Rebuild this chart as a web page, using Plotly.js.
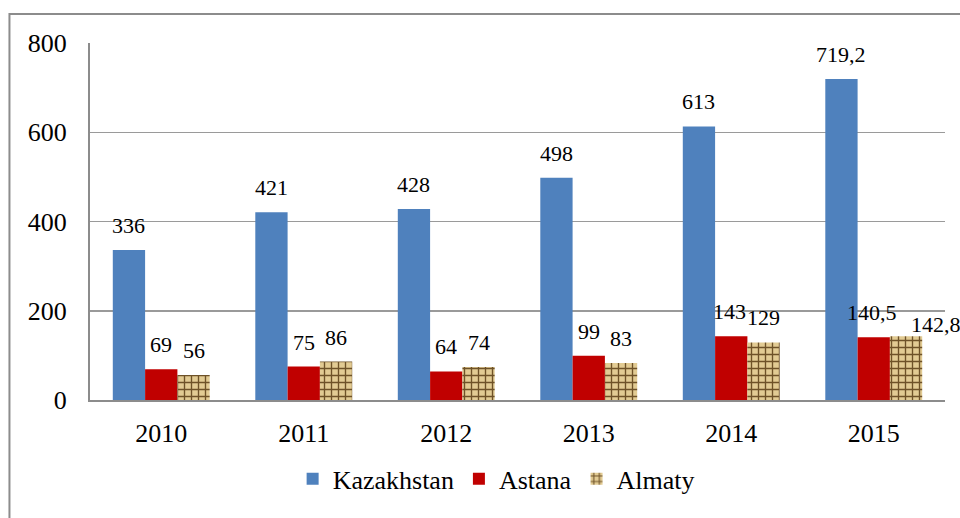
<!DOCTYPE html>
<html>
<head>
<meta charset="utf-8">
<script src="https://cdn.plot.ly/plotly-3.0.1.min.js"></script>
<style>
html,body{margin:0;padding:0;background:#fff;}
#chart{width:960px;height:518px;}
</style>
</head>
<body>
<div id="chart"></div>
<script>
const years = ['2010','2011','2012','2013','2014','2015'];
const kazakhstan = [336, 421, 428, 498, 613, 719.2];
const astana = [69, 75, 64, 99, 143, 140.5];
const almaty = [56, 86, 74, 83, 129, 142.8];
const seriesNames = ['Kazakhstan','Astana','Almaty'];
const yTicks = [0, 200, 400, 600, 800];

const fmt = v => String(v).replace('.', ',');
const FONT = 'Liberation Serif';

const traces = [
  {type:'bar', name:seriesNames[0], x:years, y:kazakhstan,
   marker:{color:'#4f81bd'}, textposition:'none', hoverinfo:'y'},
  {type:'bar', name:seriesNames[1], x:years, y:astana,
   marker:{color:'#c00000'}, textposition:'none', hoverinfo:'y'},
  {type:'bar', name:seriesNames[2], x:years, y:almaty,
   marker:{color:'#d2b77c', pattern:{shape:'+', bgcolor:'#e2cb93', fgcolor:'#6e5228', size:7, solidity:0.35}},
   textposition:'none', hoverinfo:'y'}
];

const ML = 90, MR = 15, W = 960;
const bargap = 0.32;
const catW = (W - ML - MR) / years.length;
const barW = catW * (1 - bargap) / 3;
const allSeries = [kazakhstan, astana, almaty];
// label nudges (series index, category index) -> [dx, dy] in px
const nudges = {'2,5':[30,-13], '1,5':[-2,0], '1,4':[-2,0]};
const annotations = [];
allSeries.forEach((vals, si) => {
  vals.forEach((v, i) => {
    const n = nudges[si + ',' + i] || [0,0];
    annotations.push({
      x: i, y: v, xref:'x', yref:'y',
      text: fmt(v), showarrow:false,
      xshift: (si - 1) * barW + n[0], yshift: 10 + n[1], yanchor:'bottom',
      font:{family:FONT, size:22, color:'#000'}
    });
  });
});

const layout = {
  width: 960, height: 518,
  margin:{l:ML, r:MR, t:43, b:118},
  paper_bgcolor:'#fff', plot_bgcolor:'#fff',
  barmode:'group', bargap:bargap, bargroupgap:0,
  font:{family:FONT, size:26, color:'#000'},
  xaxis:{type:'category', range:[-0.5, years.length - 0.5], autorange:false, automargin:false,
         showgrid:false, showline:true, linecolor:'#8c8c8c', linewidth:2,
         ticks:'outside', ticklen:9, tickcolor:'rgba(0,0,0,0)', tickfont:{family:FONT, size:26}},
  yaxis:{range:[0,800], autorange:false, automargin:false, tickvals:yTicks, showgrid:true, gridcolor:'#9a9a9a', gridwidth:1.5,
         showline:true, linecolor:'#8c8c8c', linewidth:2, zeroline:false,
         ticks:'outside', ticklen:16, tickcolor:'rgba(0,0,0,0)', tickfont:{family:FONT, size:26}},
  showlegend:true,
  legend:{orientation:'h', x:0.475, xanchor:'center', y:-0.155, yanchor:'top',
          font:{family:FONT, size:26}, itemwidth:30, traceorder:'normal'},
  annotations: annotations,
  shapes:[
    {type:'path', xref:'paper', yref:'paper',
     path:'M -0.0942,-0.4 L -0.0942,1.0812 L 1.2,1.0812',
     line:{color:'#8c8c8c', width:2}}
  ]
};

Plotly.newPlot('chart', traces, layout, {staticPlot:true});
</script>
</body>
</html>
